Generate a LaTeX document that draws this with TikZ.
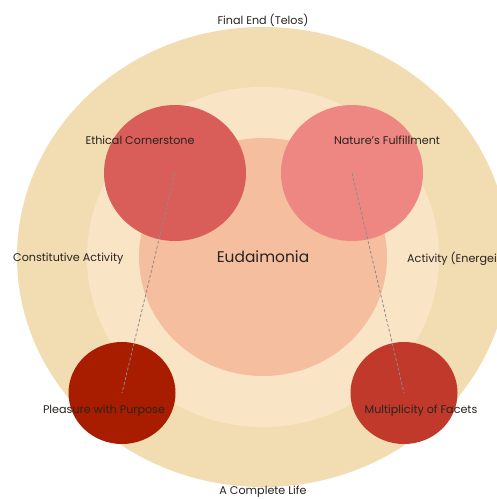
\documentclass[tikz,border=0pt]{standalone}
\usepackage{fontspec}
\setmainfont{Poppins}
\usetikzlibrary{shapes.geometric}
\definecolor{ringout}{HTML}{F2DDB2}
\definecolor{ringmid}{HTML}{F9E5C6}
\definecolor{ringin}{HTML}{F5BE9F}
\definecolor{ethic}{HTML}{D95D59}
\definecolor{nature}{HTML}{EE8681}
\definecolor{pleas}{HTML}{A81C00}
\definecolor{facet}{HTML}{C0392B}
\definecolor{txt}{HTML}{2A2420}
\begin{document}
\begin{tikzpicture}[
    x=1bp, y=-1bp,
    ring/.style={ellipse, inner sep=0pt},
    blob/.style={ellipse, inner sep=0pt},
    lbl/.style={text=txt, font=\fontsize{11.2}{13}\selectfont, inner sep=0pt},
    link/.style={draw=black!45, line width=0.8bp, dash pattern=on 3bp off 2bp}
]
\useasboundingbox (0,0) rectangle (497,499);
\fill[white] (0,0) rectangle (497,499);
\node[ring, fill=ringout, minimum width=492bp, minimum height=460bp] (outer) at (263,257) {};
\node[ring, fill=ringmid, minimum width=352bp, minimum height=340bp] (mid) at (263,257) {};
\node[ring, fill=ringin, minimum width=248bp, minimum height=238bp] (core) at (263,257) {};
\node[blob, fill=ethic, minimum width=142bp, minimum height=136bp] (ethc) at (175,173) {};
\node[blob, fill=nature, minimum width=142bp, minimum height=136bp] (natr) at (352,173) {};
\node[blob, fill=pleas, minimum width=107bp, minimum height=102bp] (plsr) at (122,393) {};
\node[blob, fill=facet, minimum width=107bp, minimum height=102bp] (fcts) at (404,393) {};
\draw[link] (ethc.center) -- (plsr.center);
\draw[link] (natr.center) -- (fcts.center);
\node[lbl, font=\fontsize{15.5}{18}\selectfont] (eud) at (263,257) {Eudaimonia};
\node[lbl] (telos) at (263,20) {Final End (Telos)};
\node[lbl] (life) at (263,492) {A Complete Life};
\node[lbl, anchor=west] (const) at (13,258.5) {Constitutive Activity};
\node[lbl, anchor=west] (energ) at (407,258.5) {Activity (Energeia)};
\node[lbl] (ethcl) at (140,140.5) {Ethical Cornerstone};
\node[lbl] (natrl) at (387,140.5) {Nature's Fulfillment};
\node[lbl] (plsrl) at (104,410.5) {Pleasure with Purpose};
\node[lbl] (fctsl) at (421,410.5) {Multiplicity of Facets};
\end{tikzpicture}
\end{document}
